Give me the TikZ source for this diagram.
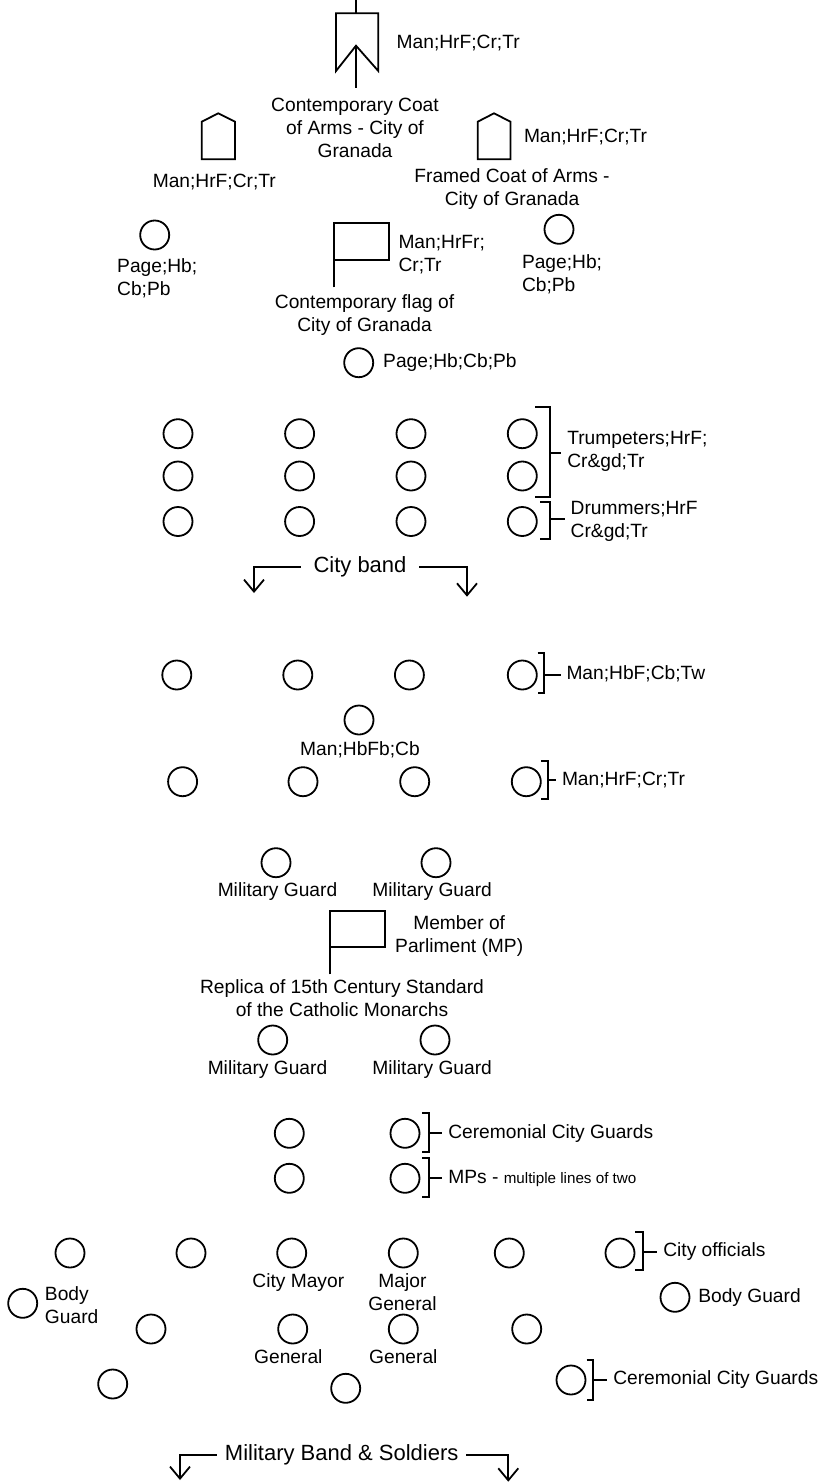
\documentclass[tikz,border=0pt]{standalone}
\usepackage{fontspec}
\setmainfont{Liberation Sans}
\usetikzlibrary{arrows.meta}

\begin{document}
\begin{tikzpicture}[x=0.5pt, y=-0.5pt, line width=0.9pt]

\tikzstyle{every node}=[font=\fontsize{9.6}{11.5}\selectfont]
\tikzstyle{person} = [circle, draw, minimum size=14.5pt, inner sep=0pt]
\tikzstyle{tag} = [inner sep=0pt, align=center]
\tikzstyle{tagw} = [inner sep=0pt, outer sep=3pt, anchor=west, align=left]
\tikzstyle{big} = [inner sep=0pt, font=\fontsize{11}{13}\selectfont]
\tikzstyle{turn} = [-{Straight Barb[length=6pt, width=10pt]}]

\useasboundingbox (0,0) rectangle (822,1484);

% Emblems
\draw (356,0) -- (356,13.3);
\draw (356,45.7) -- (336,71) -- (336,13.3) -- (378.3,13.3) -- (378.3,71) -- cycle;
\draw (356,45.7) -- (356,88.3);
\draw (201.7,159.3) -- (201.7,121.7) -- (218.3,113.3) -- (235,121.7) -- (235,159.3) -- cycle;
\draw (477.7,159.3) -- (477.7,121.7) -- (494,113.3) -- (510.5,121.7) -- (510.5,159.3) -- cycle;
\draw (334.2,287.3) -- (334.2,222.7) -- (389,222.7) -- (389,260) -- (334.2,260);
\draw (330,974.3) -- (330,910.7) -- (385,910.7) -- (385,947.3) -- (330,947.3);

% Nodes - front
\node[tagw] (arms1) at (390.7,42.7) {Man;HrF;Cr;Tr};
\node[tag] (armscap) at (355,128) {Contemporary Coat\\of Arms - City of\\Granada};
\node[tag] (arms2) at (214.3,182) {Man;HrF;Cr;Tr};
\node[tagw] (arms3) at (518,136.7) {Man;HrF;Cr;Tr};
\node[tag] (framed) at (512,189.2) {Framed Coat of Arms -\\City of Granada};
\node[person] (page1) at (154.7,235) {};
\node[tagw] (page1l) at (111.2,278) {Page;Hb;\\Cb;Pb};
\node[person] (page2) at (559,229.3) {};
\node[tagw] (page2l) at (516,274.7) {Page;Hb;\\Cb;Pb};
\node[tagw] (flag1) at (392.5,254.7) {Man;HrFr;\\Cr;Tr};
\node[tag] (flagcap) at (364.6,315.3) {Contemporary flag of\\City of Granada};
\node[person] (page3) at (358.7,362.7) {};
\node[tagw] (page3l) at (377.2,362.7) {Page;Hb;Cb;Pb};

% Nodes - city band
\foreach \c/\x in {1/178,2/299.6,3/411,4/522.3}
  \foreach \r/\y in {1/433.7,2/476,3/521.5}
    \node[person] (band\r\c) at (\x,\y) {};
\coordinate (bk1) at (550,453.3);
\coordinate (bk2) at (550,519.3);
\node[tagw] (trump) at (561.3,451.7) {Trumpeters;HrF;\\Cr\&gd;Tr};
\node[tagw] (drum) at (564.7,521.7) {Drummers;HrF\\Cr\&gd;Tr};
\node[big, outer xsep=6.5pt] (cband) at (360,566.7) {City band};
\coordinate (cbl) at (254,593);
\coordinate (cbr) at (467,596.7);

% Nodes - flag bearers
\foreach \c/\x in {1/176.8,2/297.8,3/409.4,4/522.3}
  \node[person] (fa\c) at (\x,675) {};
\node[person] (fmid) at (359,720) {};
\node[tag] (fmidl) at (360,750) {Man;HbFb;Cb};
\foreach \c/\x in {1/182.6,2/303,3/414.7,4/526.3}
  \node[person] (fb\c) at (\x,781.7) {};
\coordinate (bk3) at (544,675);
\coordinate (bk4) at (548,780);
\node[tagw] (faL) at (560.5,673.3) {Man;HbF;Cb;Tw};
\node[tagw] (fbL) at (556,780) {Man;HrF;Cr;Tr};

% Nodes - standard
\node[person] (mg1) at (276,862.7) {};
\node[person] (mg2) at (436,862.7) {};
\node[tag] (mg1l) at (277.5,891.7) {Military Guard};
\node[tag] (mg2l) at (432.2,891.7) {Military Guard};
\node[tag] (mp) at (459.2,936.2) {Member of\\Parliment (MP)};
\node[tag] (std) at (342,998.3) {Replica of 15th Century Standard\\of the Catholic Monarchs};
\node[person] (mg3) at (272.7,1040) {};
\node[person] (mg4) at (435,1040) {};
\node[tag] (mg3l) at (267.5,1070) {Military Guard};
\node[tag] (mg4l) at (432.2,1070) {Military Guard};

% Nodes - guards and MPs
\node[person] (cg1) at (289.3,1133.3) {};
\node[person] (cg2) at (405,1133.3) {};
\node[person] (mp1) at (289.3,1178.3) {};
\node[person] (mp2) at (405,1178.3) {};
\coordinate (bk5) at (429.3,1133.3);
\coordinate (bk6) at (429.3,1178.3);
\node[tagw] (cgL) at (442.3,1133.3) {Ceremonial City Guards};
\node[tagw] (mpL) at (442.3,1178.3) {MPs - {\fontsize{7.6}{9}\selectfont multiple lines of two}};

% Nodes - officials
\foreach \c/\x in {1/70,2/191,3/291.7,4/403.3,5/509.3,6/620}
  \node[person] (off\c) at (\x,1253) {};
\coordinate (bk7) at (642.7,1251.7);
\node[tagw] (offL) at (657.3,1251.7) {City officials};
\node[person] (bg1) at (22.7,1303.3) {};
\node[tagw] (bg1l) at (39,1305.3) {Body\\Guard};
\node[person] (bg2) at (675,1297.3) {};
\node[tagw] (bg2l) at (692.3,1297.3) {Body Guard};
\node[tag] (mayor) at (298.3,1282.3) {City Mayor};
\node[tag] (majgen) at (402.5,1291.7) {Major\\General};
\foreach \c/\x in {1/151,2/292.7,3/403.3,4/526.7}
  \node[person] (gen\c) at (\x,1329) {};
\node[tag] (gen2l) at (288.3,1356.7) {General};
\node[tag] (gen3l) at (403.3,1356.7) {General};
\node[person] (rear1) at (112.7,1384) {};
\node[person] (rear2) at (345.7,1388.3) {};
\node[person] (rear3) at (571,1380) {};
\coordinate (bk8) at (593.3,1380);
\node[tagw] (rearL) at (607.3,1380) {Ceremonial City Guards};
\node[big, outer xsep=4pt] (mband) at (341.7,1455) {Military Band \& Soldiers};
\coordinate (mbl) at (180,1480);
\coordinate (mbr) at (508.3,1481.7);

% Lines
\draw (535,407.3) -- (550,407.3) -- (550,496.7) -- (535,496.7);
\draw (540,501.7) -- (550,501.7) -- (550,539.3) -- (540,539.3);
\draw (bk1) -- (bk1 -| trump.west);
\draw (bk2) -- (bk2 -| drum.west);
\draw[turn] (cband.west) -| (cbl);
\draw[turn] (cband.east) -| (cbr);
\draw (537.5,653.3) -- (544,653.3) -- (544,692.7) -- (537.5,692.7);
\draw (541,761) -- (548,761) -- (548,799) -- (541,799);
\draw (bk3) -- (bk3 -| faL.west);
\draw (bk4) -- (bk4 -| fbL.west);
\draw (422,1113.3) -- (429.3,1113.3) -- (429.3,1151.7) -- (422,1151.7);
\draw (422,1158.3) -- (429.3,1158.3) -- (429.3,1196.7) -- (422,1196.7);
\draw (bk5) -- (bk5 -| cgL.west);
\draw (bk6) -- (bk6 -| mpL.west);
\draw (635,1231.7) -- (642.7,1231.7) -- (642.7,1270) -- (635,1270);
\draw (bk7) -- (bk7 -| offL.west);
\draw (586.7,1360) -- (593.3,1360) -- (593.3,1400) -- (586.7,1400);
\draw (bk8) -- (bk8 -| rearL.west);
\draw[turn] (mband.west) -| (mbl);
\draw[turn] (mband.east) -| (mbr);

\end{tikzpicture}
\end{document}
